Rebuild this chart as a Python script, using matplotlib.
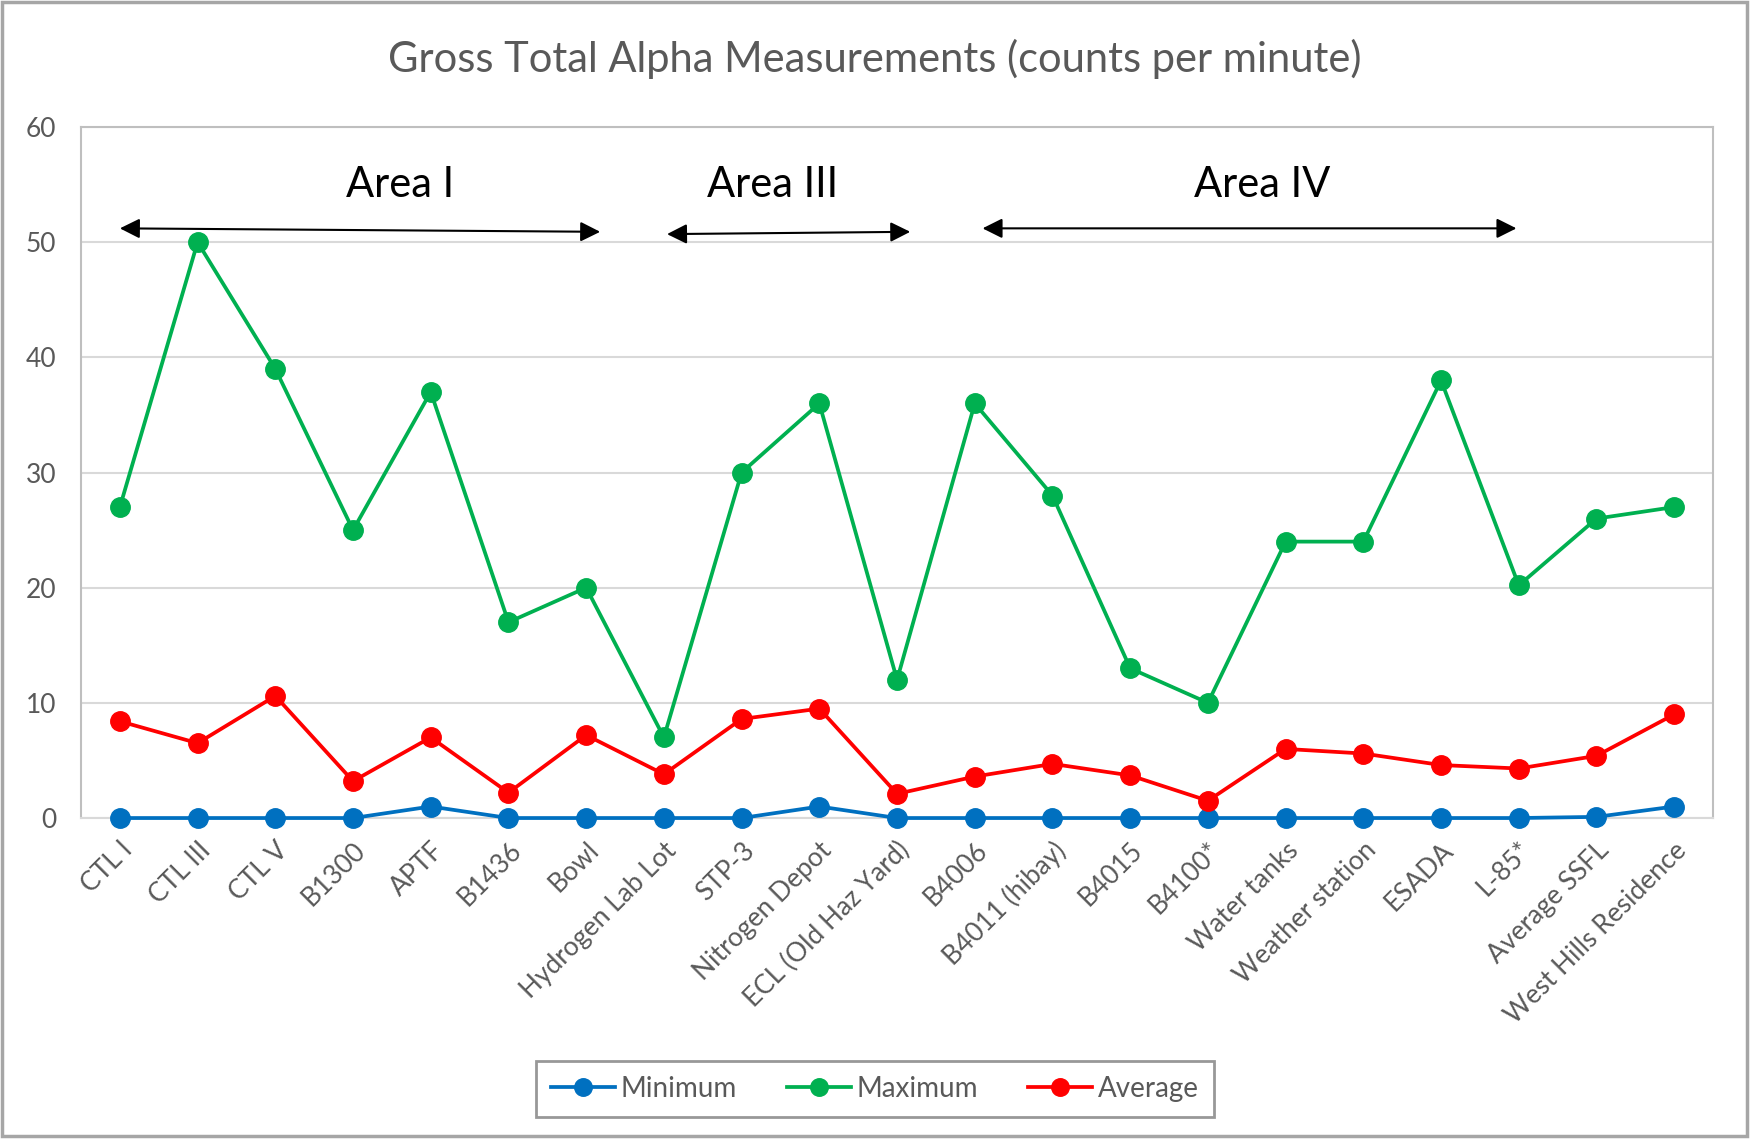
import matplotlib.pyplot as plt
import numpy as np
from matplotlib.patches import Rectangle

plt.rcParams['font.family'] = ['Lato', 'DejaVu Sans']

sites = ["CTL I", "CTL III", "CTL V", "B1300", "APTF", "B1436", "Bowl",
         "Hydrogen Lab Lot", "STP-3", "Nitrogen Depot", "ECL (Old Haz Yard)",
         "B4006", "B4011 (hibay)", "B4015", "B4100*", "Water tanks",
         "Weather station", "ESADA", "L-85*", "Average SSFL",
         "West Hills Residence"]
minimum = [0, 0, 0, 0, 1, 0, 0, 0, 0, 1, 0, 0, 0, 0, 0, 0, 0, 0, 0, 0.1, 1]
maximum = [27, 50, 39, 25, 37, 17, 20, 7, 30, 36, 12, 36, 28, 13, 10, 24, 24,
           38, 20.2, 26, 27]
average = [8.4, 6.5, 10.6, 3.2, 7.0, 2.2, 7.2, 3.8, 8.6, 9.5, 2.1, 3.6, 4.7,
           3.7, 1.5, 6.0, 5.6, 4.6, 4.3, 5.4, 9.0]

grey = "#595959"
fig = plt.figure(figsize=(17.5, 11.39), dpi=100)
ax = fig.add_axes([0.0463, 0.2818, 0.9326, 0.6067])

x = np.arange(len(sites))
for vals, col, name in [(minimum, "#0070C0", "Minimum"),
                        (maximum, "#00B050", "Maximum"),
                        (average, "#FF0000", "Average")]:
    ax.plot(x, vals, color=col, lw=2.7, marker="o", ms=14, label=name,
            zorder=3, clip_on=False)

ax.set_xlim(-0.5, len(sites) - 0.5)
ax.set_ylim(0, 60)
ax.set_yticks(range(0, 61, 10))
ax.grid(axis="y", color="#d9d9d9", lw=1.5)
ax.set_axisbelow(True)
for s in ax.spines.values():
    s.set_color("#bfbfbf")
    s.set_linewidth(1.5)
ax.spines["bottom"].set_color("#d9d9d9")
ax.tick_params(length=0, labelsize=19, labelcolor=grey)
ax.tick_params(axis="y", pad=18)
ax.set_xticks(x)
ax.set_xticklabels(sites, rotation=45, ha="right", rotation_mode="anchor")
ax.tick_params(axis="x", pad=14)

fig.text(0.5, 0.948, "Gross Total Alpha Measurements (counts per minute)",
         ha="center", va="center", fontsize=30, color=grey)

# area brackets
arrows = [((0, 51.2), (6.18, 50.9)), ((7.04, 50.7), (10.17, 50.9)),
          ((11.1, 51.2), (17.97, 51.2))]
for a, b in arrows:
    ax.annotate("", xy=b, xytext=a,
                arrowprops=dict(arrowstyle="<|-|>", color="black", lw=1.5,
                                mutation_scale=30, shrinkA=0, shrinkB=0))
for xt, lab in [(3.6, "Area I"), (8.4, "Area III"), (14.7, "Area IV")]:
    ax.text(xt, 55, lab, ha="center", va="center", fontsize=30, color="black")

leg = fig.legend(loc="lower center", bbox_to_anchor=(0.5, 0.019), ncol=3,
                 fontsize=20, frameon=True, fancybox=False, handlelength=2.3,
                 handletextpad=0.2, columnspacing=1.8, borderpad=0.55,
                 borderaxespad=0, markerscale=0.9)
leg.get_frame().set_edgecolor("#7f7f7f")
leg.get_frame().set_linewidth(2)
for t in leg.get_texts():
    t.set_color(grey)

fig.patches.append(Rectangle((0.001, 0.003), 0.997, 0.995, transform=fig.transFigure,
                             fill=False, edgecolor="#a6a6a6", lw=2.5))

fig.savefig("out.png", dpi=100)
